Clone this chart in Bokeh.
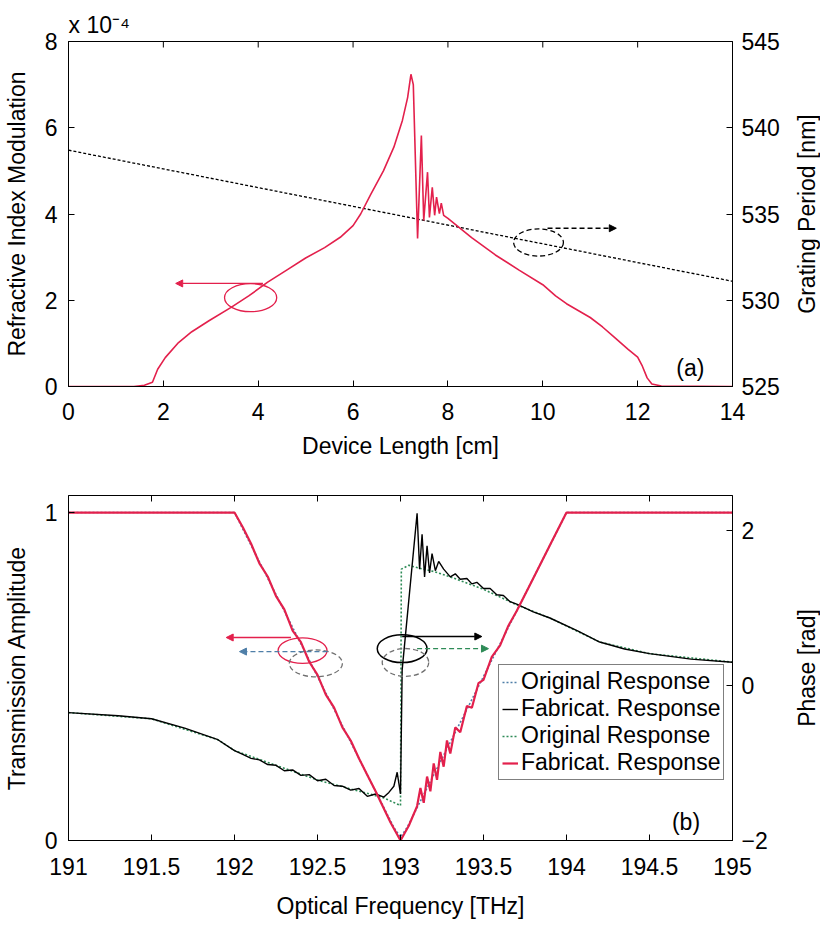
import math
from bokeh.plotting import figure
from bokeh.models import (Range1d, LinearAxis, FixedTicker, Label, Arrow, NormalHead,
                          Legend, LegendItem, Title)
from bokeh.core.properties import value
from bokeh.layouts import column, row
from bokeh.embed import file_html
from bokeh.resources import INLINE

# ---------------- data: panel (a) ----------------
x_len = [0, 1.38, 1.6, 1.77, 1.88, 2.04, 2.32, 2.6, 2.97, 3.42, 3.8, 4.2, 4.6, 5.0, 5.4,
         5.73, 6.0, 6.16, 6.37, 6.64, 6.86, 7.04, 7.15, 7.22, 7.27, 7.36, 7.44, 7.49,
         7.57, 7.61, 7.67, 7.72, 7.76, 7.82, 7.86, 7.91, 8.0, 8.5, 9.0, 9.5, 10.0,
         10.27, 10.5, 11.0, 11.26, 11.5, 11.8, 12.0, 12.1, 12.2, 12.3, 12.5, 14]
index_mod = [0, 0, 0.03, 0.1, 0.4, 0.67, 1.02, 1.27, 1.53, 1.83, 2.1, 2.42, 2.7, 2.98, 3.22,
             3.46, 3.73, 4.0, 4.45, 5.0, 5.55, 6.17, 6.7, 7.24, 7.0, 3.43, 5.82, 3.85,
             4.97, 3.92, 4.62, 3.97, 4.39, 4.01, 4.25, 3.97, 3.9, 3.45, 3.05, 2.7, 2.36,
             2.1, 1.92, 1.6, 1.38, 1.15, 0.86, 0.68, 0.47, 0.2, 0.06, 0.01, 0]
x_period = [0, 14]
grating_period = [538.7, 531.1]

# ---------------- data: panel (b) ----------------
f_fab_amp = [191.0, 192.0, 192.05, 192.10, 192.15, 192.20, 192.25, 192.30, 192.35, 192.40,
             192.45, 192.50, 192.55, 192.60, 192.65, 192.70, 192.75, 192.80, 192.85, 192.88,
             192.94, 193.00, 193.05, 193.10, 193.12, 193.14, 193.16, 193.18, 193.20, 193.22,
             193.24, 193.26, 193.28, 193.30, 193.33, 193.36, 193.40, 193.43, 193.47, 193.50,
             193.55, 193.60, 193.65, 193.70, 193.80, 193.90, 194.00, 195.00]
fab_amp = [1.0, 1.0, 0.955, 0.905, 0.845, 0.805, 0.745, 0.705, 0.640, 0.605,
           0.545, 0.505, 0.445, 0.405, 0.345, 0.305, 0.250, 0.200, 0.150, 0.118,
           0.055, 0.000, 0.045, 0.105, 0.160, 0.115, 0.195, 0.150, 0.235, 0.185,
           0.270, 0.225, 0.305, 0.265, 0.345, 0.330, 0.410, 0.405, 0.480, 0.490,
           0.560, 0.595, 0.655, 0.700, 0.800, 0.900, 1.0, 1.0]

f_orig_amp = [191.0, 192.0, 192.9, 192.96, 193.0, 193.04, 193.1, 194.0, 195.0]
orig_amp = [1.0, 1.0, 0.1, 0.04, 0.01, 0.04, 0.1, 1.0, 1.0]

f_fab_ph = [191.0, 191.3, 191.5, 191.7, 191.9, 192.0, 192.05, 192.1, 192.15, 192.2, 192.25,
            192.3, 192.35, 192.4, 192.45, 192.5, 192.55, 192.6, 192.65, 192.7, 192.75,
            192.8, 192.85, 192.9, 192.93, 192.96, 192.98, 193.0, 193.01, 193.1, 193.115,
            193.13, 193.145, 193.16, 193.175, 193.19, 193.21, 193.23, 193.26, 193.3, 193.33,
            193.36, 193.4, 193.43, 193.46, 193.5, 193.54, 193.58, 193.62, 193.66, 193.7,
            193.8, 193.9, 194.07, 194.2, 194.35, 194.5, 194.75, 195.0]
fab_ph = [-0.35, -0.39, -0.43, -0.55, -0.70, -0.84, -0.89, -0.94, -0.96, -1.02, -1.03,
          -1.10, -1.09, -1.16, -1.15, -1.23, -1.21, -1.29, -1.30, -1.35, -1.33,
          -1.43, -1.40, -1.44, -1.38, -1.30, -1.12, -1.40, 0.20, 2.22, 1.50,
          1.95, 1.40, 1.80, 1.45, 1.70, 1.48, 1.60, 1.50, 1.40, 1.44,
          1.37, 1.38, 1.31, 1.33, 1.25, 1.25, 1.17, 1.16, 1.08, 1.05,
          0.95, 0.87, 0.70, 0.56, 0.47, 0.41, 0.34, 0.30]

f_orig_ph = [191.0, 191.5, 191.9, 192.0, 192.5, 192.9, 193.0, 193.005, 193.05, 193.1, 193.2,
             193.3, 193.5, 193.7, 193.9, 194.2, 194.5, 195.0]
orig_ph = [-0.35, -0.43, -0.70, -0.84, -1.22, -1.45, -1.55, 1.50, 1.55, 1.52, 1.47,
           1.40, 1.24, 1.04, 0.87, 0.56, 0.41, 0.30]

xticks_a = [0, 2, 4, 6, 8, 10, 12, 14]
yticks_a = [0, 2, 4, 6, 8]
rticks_a = [525, 530, 535, 540, 545]
xticks_b = [191, 191.5, 192, 192.5, 193, 193.5, 194, 194.5, 195]
yticks_b = [0, 1]
rticks_b = [-2, 0, 2]

FONT = "Liberation Sans"
FS = "23px"
RED = "#e3204c"
BLUE = "#4f7fa8"
GREEN = "#2e8b57"


def style_axis(ax, ticks, label, tick_standoff, label_standoff):
    ax.ticker = FixedTicker(ticks=ticks)
    ax.major_tick_in = 6
    ax.major_tick_out = 0
    ax.minor_tick_line_color = None
    ax.axis_line_color = "black"
    ax.major_tick_line_color = "black"
    ax.major_label_text_font = FONT
    ax.major_label_text_color = "black"
    ax.major_label_text_font_size = FS
    ax.major_label_standoff = tick_standoff
    if label:
        ax.axis_label = label
        ax.axis_label_text_font = FONT
        ax.axis_label_text_font_size = FS
        ax.axis_label_text_font_style = "normal"
        ax.axis_label_text_color = "black"
        ax.axis_label_standoff = label_standoff


def side_label(text, height, top, bottom):
    """Narrow strip holding a right-hand axis title that reads bottom-to-top."""
    s = figure(width=28, height=height, x_range=Range1d(0, 1), y_range=Range1d(0, 1),
               output_backend="svg", toolbar_location=None,
               x_axis_location=None, y_axis_location=None,
               min_border=0, min_border_left=0, min_border_right=0,
               min_border_top=top, min_border_bottom=bottom)
    s.grid.visible = False
    s.outline_line_color = None
    s.text(x=[0.5], y=[0.5], text=[text], angle=math.pi / 2, text_align="center",
           text_baseline="middle", text_font=value(FONT), text_font_size=FS,
           text_color="black")
    return s


# ---------------- panel (a) ----------------
p1 = figure(width=792, height=466, x_range=Range1d(0, 14), y_range=Range1d(0, 8),
            output_backend="svg", toolbar_location=None,
            min_border_left=68, min_border_right=60, min_border_top=41, min_border_bottom=80)
p1.grid.visible = False
p1.outline_line_color = "black"
p1.extra_y_ranges = {"period": Range1d(525, 545)}
style_axis(p1.xaxis[0], xticks_a, "Device Length [cm]", 16, 10)
style_axis(p1.yaxis[0], yticks_a, "Refractive Index Modulation", 11, 12)
rax = LinearAxis(y_range_name="period")
style_axis(rax, rticks_a, None, 9, 0)
p1.add_layout(rax, "right")
p1.add_layout(Title(text="x 10\u207b\u2074", align="left", text_font=FONT,
                    text_font_size=FS, text_font_style="normal", text_color="black",
                    standoff=8), "above")

# inward ticks mirrored on the top edge
tick_len_a = 6 / 345 * 8
p1.segment(x0=xticks_a, x1=xticks_a, y0=[8] * len(xticks_a),
           y1=[8 - tick_len_a] * len(xticks_a), line_color="black", line_width=1)

p1.line(x_period, grating_period, y_range_name="period", line_color="black",
        line_width=1.3, line_dash="3 2")
p1.line(x_len, index_mod, line_color=RED, line_width=1.6)

p1.ellipse(x=[3.84], y=[2.06], width=1.10, height=0.65, fill_color=None,
           line_color=RED, line_width=1.3)
p1.add_layout(Arrow(end=NormalHead(size=7, fill_color=RED, line_color=RED),
                    x_start=4.1, y_start=2.39, x_end=2.26, y_end=2.39,
                    line_color=RED, line_width=1.3))
p1.ellipse(x=[9.91], y=[3.34], width=1.05, height=0.63, fill_color=None,
           line_color="black", line_width=1.3, line_dash="5 3")
p1.add_layout(Arrow(end=NormalHead(size=7, fill_color="black", line_color="black"),
                    x_start=10.1, y_start=3.67, x_end=11.55, y_end=3.67,
                    line_color="black", line_width=1.3, line_dash="5 3"))
p1.add_layout(Label(x=13.11, y=0.42, text="(a)", text_font=FONT, text_font_size=FS,
                    text_color="black", text_align="center", text_baseline="middle"))

s1 = side_label("Grating Period [nm]", 466, 41, 80)

# ---------------- panel (b) ----------------
p2 = figure(width=792, height=460, x_range=Range1d(191, 195), y_range=Range1d(0, 1.052),
            output_backend="svg", toolbar_location=None,
            min_border_left=68, min_border_right=60, min_border_top=29, min_border_bottom=86)
p2.grid.visible = False
p2.outline_line_color = "black"
p2.extra_y_ranges = {"phase": Range1d(-2, 2.45)}
style_axis(p2.xaxis[0], xticks_b, "Optical Frequency [THz]", 17, 15)
style_axis(p2.yaxis[0], yticks_b, "Transmission Amplitude", 11, 12)
rax2 = LinearAxis(y_range_name="phase")
style_axis(rax2, rticks_b, None, 9, 0)
p2.add_layout(rax2, "right")

tick_len_b = 6 / 345 * 1.052
p2.segment(x0=xticks_b, x1=xticks_b, y0=[1.052] * len(xticks_b),
           y1=[1.052 - tick_len_b] * len(xticks_b), line_color="black", line_width=1)

r_oph = p2.line(f_orig_ph, orig_ph, y_range_name="phase", line_color=GREEN,
                line_width=1.6, line_dash="2 2")
r_fph = p2.line(f_fab_ph, fab_ph, y_range_name="phase", line_color="black", line_width=1.4)
r_oamp = p2.line(f_orig_amp, orig_amp, line_color=BLUE, line_width=1.6, line_dash="2 2")
r_famp = p2.line(f_fab_amp, fab_amp, line_color=RED, line_width=2.2)

p2.add_layout(Arrow(end=NormalHead(size=7, fill_color=RED, line_color=RED),
                    x_start=192.34, y_start=0.619, x_end=191.95, y_end=0.619,
                    line_color=RED, line_width=1.3))
p2.add_layout(Arrow(end=NormalHead(size=7, fill_color=BLUE, line_color=BLUE),
                    x_start=192.56, y_start=0.576, x_end=192.03, y_end=0.576,
                    line_color=BLUE, line_width=1.3, line_dash="5 3"))
p2.ellipse(x=[192.41], y=[0.579], width=0.295, height=0.078, fill_color=None,
           line_color=RED, line_width=1.3)
p2.ellipse(x=[192.49], y=[0.540], width=0.32, height=0.082, fill_color=None,
           line_color="#707070", line_width=1.3, line_dash="5 3")
p2.add_layout(Arrow(end=NormalHead(size=7, fill_color="black", line_color="black"),
                    x_start=193.01, y_start=0.622, x_end=193.49, y_end=0.622,
                    line_color="black", line_width=1.3))
p2.add_layout(Arrow(end=NormalHead(size=7, fill_color=GREEN, line_color=GREEN),
                    x_start=193.1, y_start=0.585, x_end=193.53, y_end=0.585,
                    line_color=GREEN, line_width=1.3, line_dash="5 3"))
p2.ellipse(x=[193.01], y=[0.585], width=0.30, height=0.085, fill_color=None,
           line_color="black", line_width=1.5)
p2.ellipse(x=[193.03], y=[0.543], width=0.28, height=0.085, fill_color=None,
           line_color="#707070", line_width=1.3, line_dash="5 3")
p2.add_layout(Label(x=194.72, y=0.055, text="(b)", text_font=FONT, text_font_size=FS,
                    text_color="black", text_align="center", text_baseline="middle"))

legend = Legend(items=[LegendItem(label="Original Response", renderers=[r_oamp]),
                       LegendItem(label="Fabricat. Response", renderers=[r_fph]),
                       LegendItem(label="Original Response", renderers=[r_oph]),
                       LegendItem(label="Fabricat. Response", renderers=[r_famp])],
                location=(430, 60), label_text_font=FONT, label_text_font_size=FS,
                label_text_color="black",
                glyph_width=16, glyph_height=24, label_height=24, spacing=0,
                padding=3, margin=0, label_standoff=3,
                border_line_color="black", border_line_width=1,
                background_fill_color="white", background_fill_alpha=1.0)
p2.add_layout(legend, "center")

s2 = side_label("Phase [rad]", 460, 29, 86)

layout = column(row(p1, s1, spacing=0), row(p2, s2, spacing=0), spacing=0)
open("out.html", "w").write(file_html(layout, INLINE))
